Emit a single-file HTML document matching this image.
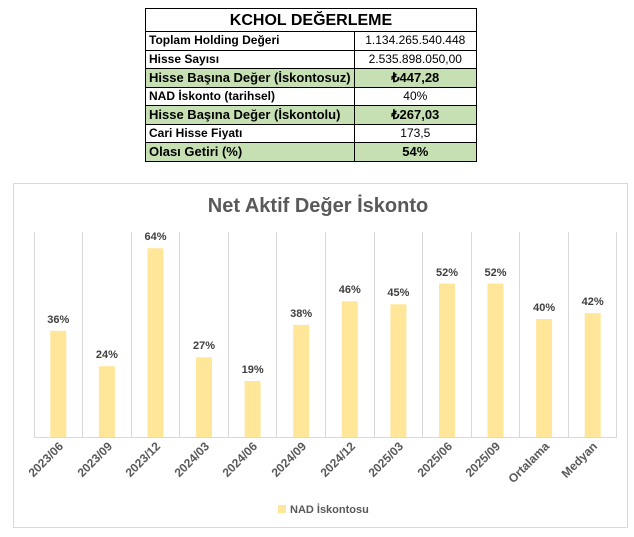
<!DOCTYPE html>
<html><head><meta charset="utf-8"><style>
body{margin:0;background:#fff;width:634px;height:537px;position:relative;font-family:"Liberation Sans",sans-serif;overflow:hidden}
table{position:absolute;left:145px;top:8px;border-collapse:collapse;width:332px;font-size:12px;font-weight:bold}
td{border:1px solid #000;height:17.5px;padding:0 3px;line-height:17px;white-space:nowrap}
td.v{text-align:center;font-weight:normal;width:123px}
tr.g td{background:#c6e0b4;font-size:13px}
tr.g td.v{font-weight:bold}
</style></head><body>
<table>
<tr><td colspan="2" style="text-align:center;font-size:16px;height:22px">KCHOL DEĞERLEME</td></tr>
<tr><td>Toplam Holding Değeri</td><td class="v">1.134.265.540.448</td></tr>
<tr><td>Hisse Sayısı</td><td class="v">2.535.898.050,00</td></tr>
<tr class="g"><td>Hisse Başına Değer (İskontosuz)</td><td class="v">₺447,28</td></tr>
<tr><td>NAD İskonto (tarihsel)</td><td class="v">40%</td></tr>
<tr class="g"><td>Hisse Başına Değer (İskontolu)</td><td class="v">₺267,03</td></tr>
<tr><td>Cari Hisse Fiyatı</td><td class="v">173,5</td></tr>
<tr class="g"><td>Olası Getiri (%)</td><td class="v" style="font-weight:bold">54%</td></tr>
</table>
<svg style="position:absolute;left:0;top:0" width="634" height="537" font-family="Liberation Sans, sans-serif">
<rect x="13.5" y="183.5" width="614" height="344" fill="#fff" stroke="#d9d9d9"/>
<text x="318" y="212" text-anchor="middle" font-size="20" font-weight="bold" fill="#595959">Net Aktif Değer İskonto</text>
<g stroke="#d9d9d9" stroke-width="1">
<line x1="34" y1="437.5" x2="617" y2="437.5"/>
<line x1="34.5" y1="232" x2="34.5" y2="437"/>
<line x1="82.5" y1="232" x2="82.5" y2="437"/>
<line x1="131.5" y1="232" x2="131.5" y2="437"/>
<line x1="179.5" y1="232" x2="179.5" y2="437"/>
<line x1="228.5" y1="232" x2="228.5" y2="437"/>
<line x1="276.5" y1="232" x2="276.5" y2="437"/>
<line x1="325.5" y1="232" x2="325.5" y2="437"/>
<line x1="374.5" y1="232" x2="374.5" y2="437"/>
<line x1="422.5" y1="232" x2="422.5" y2="437"/>
<line x1="471.5" y1="232" x2="471.5" y2="437"/>
<line x1="519.5" y1="232" x2="519.5" y2="437"/>
<line x1="568.5" y1="232" x2="568.5" y2="437"/>
<line x1="616.5" y1="232" x2="616.5" y2="437"/>
</g>
<g fill="#ffe699">
<rect x="50.3" y="330.8" width="16" height="106.2"/>
<rect x="98.9" y="366.2" width="16" height="70.8"/>
<rect x="147.5" y="248.2" width="16" height="188.8"/>
<rect x="196" y="357.4" width="16" height="79.6"/>
<rect x="244.6" y="381" width="16" height="56"/>
<rect x="293.2" y="324.9" width="16" height="112.1"/>
<rect x="341.8" y="301.3" width="16" height="135.7"/>
<rect x="390.4" y="304.3" width="16" height="132.7"/>
<rect x="439" y="283.6" width="16" height="153.4"/>
<rect x="487.5" y="283.6" width="16" height="153.4"/>
<rect x="536.1" y="319" width="16" height="118"/>
<rect x="584.7" y="313.1" width="16" height="123.9"/>
</g>
<g font-size="11" font-weight="bold" fill="#404040" text-anchor="middle">
<text x="58.3" y="323">36%</text>
<text x="106.9" y="358">24%</text>
<text x="155.5" y="240">64%</text>
<text x="204" y="349">27%</text>
<text x="252.6" y="373">19%</text>
<text x="301.2" y="317">38%</text>
<text x="349.8" y="293">46%</text>
<text x="398.4" y="296">45%</text>
<text x="447" y="276">52%</text>
<text x="495.5" y="276">52%</text>
<text x="544.1" y="311">40%</text>
<text x="592.7" y="305">42%</text>
</g>
<g font-size="12" font-weight="bold" fill="#595959" text-anchor="end">
<text transform="translate(64,447) rotate(-45)">2023/06</text>
<text transform="translate(113,447) rotate(-45)">2023/09</text>
<text transform="translate(161,447) rotate(-45)">2023/12</text>
<text transform="translate(210,447) rotate(-45)">2024/03</text>
<text transform="translate(258,447) rotate(-45)">2024/06</text>
<text transform="translate(307,447) rotate(-45)">2024/09</text>
<text transform="translate(356,447) rotate(-45)">2024/12</text>
<text transform="translate(404,447) rotate(-45)">2025/03</text>
<text transform="translate(453,447) rotate(-45)">2025/06</text>
<text transform="translate(501,447) rotate(-45)">2025/09</text>
<text transform="translate(550,447) rotate(-45)">Ortalama</text>
<text transform="translate(598,447) rotate(-45)">Medyan</text>
</g>
<g font-size="11" font-weight="bold" fill="#595959">
<rect x="278" y="505" width="8" height="8" fill="#ffe699"/>
<text x="290" y="513">NAD İskontosu</text>
</g>
</svg>
</body></html>
